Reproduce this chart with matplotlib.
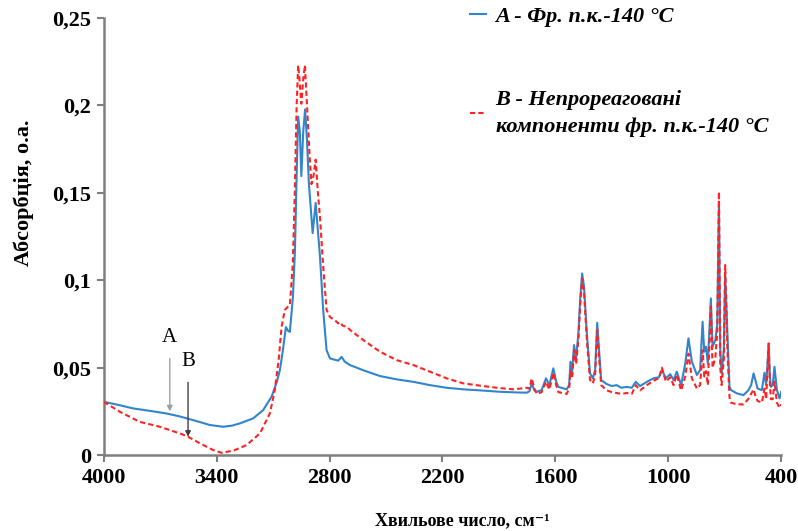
"""
    IR spectra: fraction IBP-140 C vs unreacted components
"""

import matplotlib
matplotlib.use("Agg")
import matplotlib.pyplot as plt
from matplotlib.lines import Line2D
from matplotlib.ticker import FuncFormatter

# Series A - fraction (blue, solid)
wn_a = [4000, 3915, 3844, 3750, 3667, 3600, 3525, 3436, 3366, 3320, 3277, 3206,
        3153, 3108, 3080, 3064, 3048, 3032, 3020, 3011, 2995, 2984, 2975, 2967,
        2958, 2950, 2940, 2930, 2920, 2910, 2890, 2874, 2862, 2851, 2834, 2816,
        2798, 2770, 2754, 2736, 2720, 2692, 2623, 2532, 2443, 2355, 2266, 2178,
        2089, 2000, 1894, 1800, 1752, 1738, 1726, 1712, 1699, 1673, 1650, 1632,
        1611, 1596, 1584, 1540, 1527, 1520, 1511, 1501, 1490, 1478, 1468, 1458,
        1448, 1433, 1416, 1401, 1389, 1378, 1368, 1357, 1327, 1300, 1274, 1250,
        1221, 1194, 1173, 1150, 1114, 1079, 1050, 1034, 1013, 990, 972, 955,
        932, 910, 893, 875, 848, 831, 818, 809, 800, 790, 774, 765, 750, 740,
        731, 724, 717, 705, 698, 690, 686, 675, 667, 636, 601, 575, 560, 547,
        535, 526, 503, 489, 480, 467, 460, 455, 445, 436, 423, 409, 400]
abs_a = [0.0305, 0.0285, 0.0267, 0.0252, 0.0238, 0.0222, 0.0200, 0.0172, 0.0162,
         0.0168, 0.0181, 0.0210, 0.0257, 0.0334, 0.0420, 0.0486, 0.0600, 0.0732,
         0.0710, 0.0705, 0.0900, 0.1170, 0.1600, 0.1936, 0.1850, 0.1596, 0.1850,
         0.1978, 0.1800, 0.1556, 0.1270, 0.1443, 0.1280, 0.1135, 0.0830, 0.0600,
         0.0553, 0.0545, 0.0540, 0.0562, 0.0535, 0.0515, 0.0486, 0.0452, 0.0433,
         0.0419, 0.0400, 0.0385, 0.0376, 0.0370, 0.0362, 0.0358, 0.0357, 0.0365,
         0.0410, 0.0370, 0.0362, 0.0372, 0.0439, 0.0400, 0.0496, 0.0420, 0.0390,
         0.0376, 0.0400, 0.0534, 0.0477, 0.0629, 0.0553, 0.0696, 0.0900, 0.1039,
         0.0963, 0.0696, 0.0467, 0.0439, 0.0486, 0.0757, 0.0600, 0.0429, 0.0406,
         0.0395, 0.0400, 0.0385, 0.0390, 0.0385, 0.0419, 0.0395, 0.0419, 0.0439,
         0.0445, 0.0486, 0.0439, 0.0463, 0.0429, 0.0477, 0.0400, 0.0524, 0.0668,
         0.0534, 0.0458, 0.0486, 0.0763, 0.0591, 0.0620, 0.0524, 0.0896, 0.0620,
         0.0658, 0.0750, 0.1450, 0.0600, 0.0467, 0.0600, 0.1040, 0.0800, 0.0696,
         0.0390, 0.0372, 0.0353, 0.0343, 0.0370, 0.0400, 0.0467, 0.0420, 0.0381,
         0.0372, 0.0471, 0.0400, 0.0630, 0.0450, 0.0390, 0.0400, 0.0505, 0.0372,
         0.0324, 0.0362]

# Series B - unreacted components (red, dashed)
wn_b = [4000, 3915, 3809, 3702, 3596, 3552, 3489, 3419, 3374, 3312, 3241, 3170,
        3117, 3091, 3070, 3055, 3038, 3020, 3011, 2995, 2985, 2975, 2967, 2960,
        2950, 2940, 2931, 2920, 2905, 2896, 2885, 2874, 2862, 2851, 2834, 2816,
        2798, 2770, 2754, 2745, 2730, 2709, 2690, 2621, 2532, 2443, 2355, 2266,
        2178, 2089, 2000, 1912, 1823, 1752, 1738, 1726, 1712, 1699, 1673, 1650,
        1632, 1611, 1596, 1584, 1540, 1527, 1520, 1511, 1501, 1490, 1478, 1468,
        1458, 1448, 1433, 1416, 1401, 1389, 1378, 1368, 1357, 1327, 1300, 1274,
        1250, 1221, 1194, 1173, 1150, 1114, 1079, 1050, 1034, 1013, 990, 972,
        955, 932, 910, 893, 875, 848, 831, 818, 809, 800, 790, 774, 765, 750,
        740, 731, 724, 717, 705, 698, 690, 686, 675, 667, 636, 601, 575, 560,
        547, 535, 526, 503, 489, 480, 467, 460, 455, 445, 436, 423, 409, 400]
abs_b = [0.0305, 0.0248, 0.0190, 0.0162, 0.0124, 0.0105, 0.0067, 0.0029, 0.0013,
         0.0025, 0.0057, 0.0124, 0.0239, 0.0372, 0.0550, 0.0734, 0.0830, 0.0850,
         0.0858, 0.1100, 0.1500, 0.2000, 0.2230, 0.2150, 0.2010, 0.2150, 0.2230,
         0.2000, 0.1690, 0.1550, 0.1600, 0.1690, 0.1500, 0.1360, 0.1080, 0.0830,
         0.0790, 0.0770, 0.0753, 0.0760, 0.0740, 0.0734, 0.0715, 0.0658, 0.0591,
         0.0543, 0.0515, 0.0477, 0.0439, 0.0410, 0.0397, 0.0385, 0.0376, 0.0385,
         0.0380, 0.0439, 0.0380, 0.0350, 0.0360, 0.0420, 0.0375, 0.0470, 0.0400,
         0.0360, 0.0350, 0.0380, 0.0480, 0.0440, 0.0600, 0.0520, 0.0660, 0.0860,
         0.1010, 0.0930, 0.0660, 0.0430, 0.0410, 0.0460, 0.0715, 0.0560, 0.0400,
         0.0370, 0.0360, 0.0355, 0.0350, 0.0355, 0.0350, 0.0400, 0.0370, 0.0400,
         0.0425, 0.0440, 0.0500, 0.0420, 0.0445, 0.0400, 0.0460, 0.0370, 0.0450,
         0.0580, 0.0440, 0.0380, 0.0400, 0.0600, 0.0450, 0.0480, 0.0400, 0.0850,
         0.0500, 0.0560, 0.0700, 0.1506, 0.0500, 0.0400, 0.0550, 0.1087, 0.0750,
         0.0600, 0.0330, 0.0300, 0.0290, 0.0290, 0.0320, 0.0350, 0.0376, 0.0330,
         0.0310, 0.0300, 0.0380, 0.0320, 0.0639, 0.0400, 0.0320, 0.0320, 0.0420,
         0.0300, 0.0270, 0.0290]

label_a = "A - Фр. п.к.-140 °C"
label_b = "B - Непрореаговані\nкомпоненти фр. п.к.-140 °C"
x_ticks = [4000, 3400, 2800, 2200, 1600, 1000, 400]
y_ticks = [0, 0.05, 0.1, 0.15, 0.2, 0.25]

plt.rcParams['font.family'] = ['Liberation Serif', 'DejaVu Serif']

fig = plt.figure(figsize=(7.98, 5.31), dpi=100)
ax = fig.add_axes([0.130, 0.143, 0.849, 0.823])

blue = '#3185cc'
red = '#ff2222'
dash = (0, (2.5, 1.5))
ax.plot(wn_a, abs_a, color=blue, lw=1.5, zorder=2)
ax.plot(wn_b, abs_b, color=red, lw=1.5, ls=dash, zorder=3)

ax.set_xlim(4000, 400)
ax.set_ylim(0, 0.25)
ax.set_xticks(x_ticks)
ax.set_yticks(y_ticks)
ax.yaxis.set_major_formatter(FuncFormatter(lambda v, p: ('%g' % v).replace('.', ',')))

for s in ['top', 'right']:
    ax.spines[s].set_visible(False)
for s in ['left', 'bottom']:
    ax.spines[s].set_color('#7f7f7f')
    ax.spines[s].set_linewidth(1.8)
ax.tick_params(direction='out', length=5, width=1.5, color='#7f7f7f',
               labelsize=16, pad=4)
for lab in ax.get_xticklabels() + ax.get_yticklabels():
    lab.set_fontweight('bold')

ax.set_xlabel("Хвильове число, см⁻¹", fontsize=13, fontweight='bold')
ax.xaxis.label.set_va('center')
ax.xaxis.set_label_coords(0.529, -0.150)
ax.set_ylabel("Абсорбція, о.а.", fontsize=16, fontweight='bold')
ax.yaxis.label.set_va('center')
ax.yaxis.set_label_coords(-0.118, 0.600)

# arrows marking the curves
ax.annotate("A", xy=(3649, 0.0250), xytext=(3649, 0.0670), ha='center', va='center',
            fontsize=15, arrowprops=dict(arrowstyle='-|>', color='#a0a0a0', lw=1,
                                         mutation_scale=8, shrinkA=6, shrinkB=0))
ax.annotate("B", xy=(3552, 0.0105), xytext=(3552, 0.0534), ha='center', va='center',
            fontsize=15, arrowprops=dict(arrowstyle='-|>', color='#404040', lw=1,
                                         mutation_scale=8, shrinkA=6, shrinkB=0))

handles = [Line2D([], [], color=blue, lw=1.5),
           Line2D([], [], color=red, lw=1.5, ls=dash)]
leg = ax.legend(handles, [label_a, label_b], loc='upper left',
                bbox_to_anchor=(0.5406, 1.027), frameon=False, handlelength=0.7,
                handletextpad=0.45, labelspacing=2.85, borderaxespad=0, borderpad=0,
                prop={'size': 16, 'weight': 'bold', 'style': 'italic'})
leg.get_texts()[1].set_linespacing(1.45)

fig.savefig("out.png", dpi=100)
